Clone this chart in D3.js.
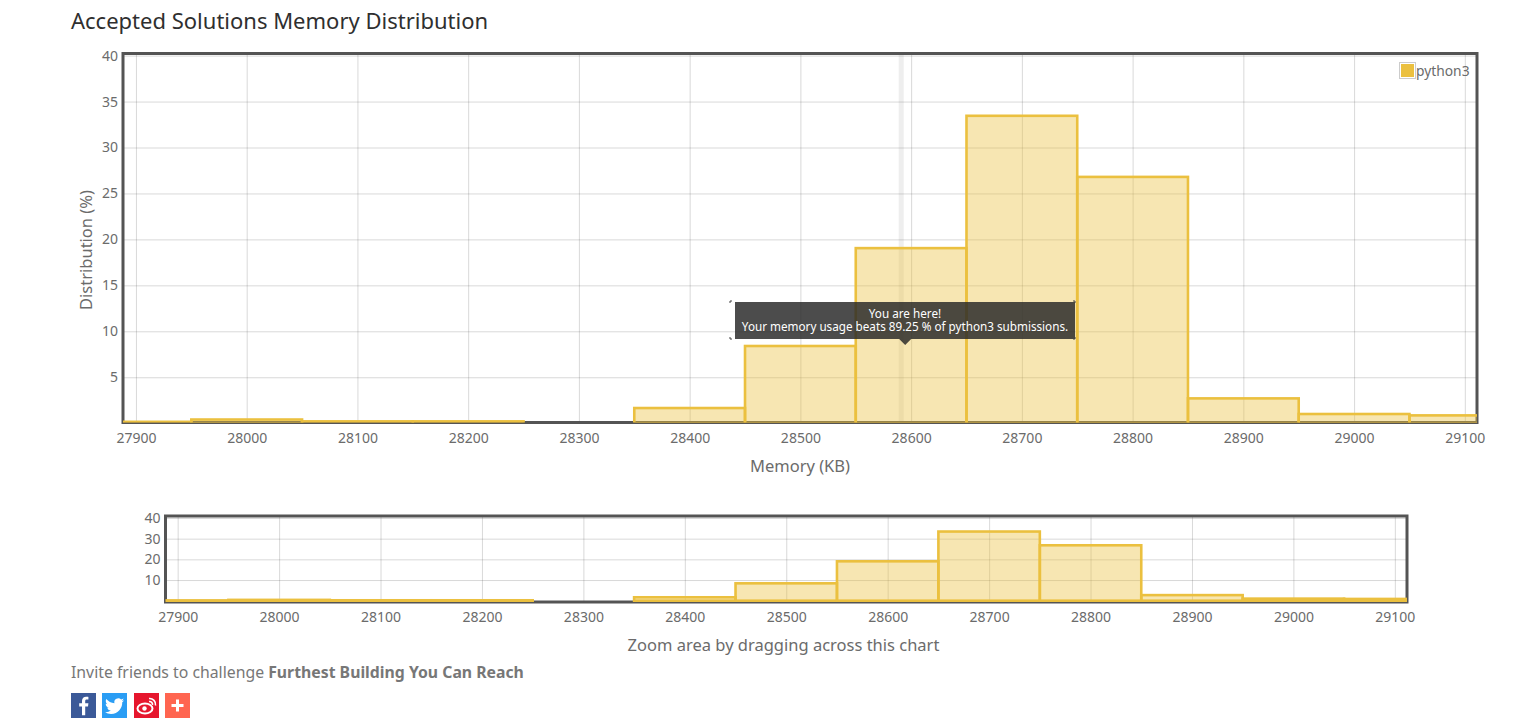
<!DOCTYPE html>
<html>
<head>
<meta charset="utf-8">
<title>Accepted Solutions Memory Distribution</title>
<script src="https://cdn.jsdelivr.net/npm/d3@7"></script>
<style>
  html, body { margin: 0; padding: 0; background: #fff; overflow: hidden; }
  svg { display: block; }
  text { font-family: "Noto Sans", sans-serif; }
</style>
</head>
<body>
<svg id="chart" width="1536" height="727"></svg>
<script>
let bin_start = [27850, 27950, 28050, 28150, 28250, 28350, 28450, 28550, 28650, 28750, 28850, 28950, 29050];
let bin_value = [0.15, 0.4, 0.2, 0.2, 0, 1.65, 8.4, 19.05, 33.45, 26.8, 2.7, 1.0, 0.85];
let bin_size = 100;

let x_ticks = [27900, 28000, 28100, 28200, 28300, 28400, 28500, 28600, 28700, 28800, 28900, 29000, 29100];
let y_ticks_main = [5, 10, 15, 20, 25, 30, 35, 40];
let y_ticks_over = [10, 20, 30, 40];

let series_name = 'python3';
let my_memory = 28591;

let bar_color = '#ebc03f';
let frame_color = '#545454';
let grid_color = 'rgba(84,84,84,0.22)';
let text_color = '#6b6b6b';

let svg = d3.select('#chart');

/*
 * One plot: grid, frame, bars and tick labels.
 * param.zero is where value 0 sits, a little off the frame line.
 */
function draw_plot(param) {
  let x = d3.scaleLinear().domain(param.x_domain).range([param.left, param.right]);
  let y = d3.scaleLinear().domain(param.y_domain).range([param.zero, param.y_top]);

  let clip_id = param.id + '_clip';
  svg.append('clipPath').attr('id', clip_id)
    .append('rect')
    .attr('x', param.left)
    .attr('y', param.top)
    .attr('width', param.right - param.left)
    .attr('height', param.bottom - param.top);

  let x_axis = svg.append('g')
    .attr('transform', `translate(0,${param.bottom})`)
    .call(d3.axisBottom(x).tickValues(x_ticks).tickFormat(d3.format('d'))
      .tickSize(-(param.bottom - param.top)).tickPadding(param.x_pad));

  let y_axis = svg.append('g')
    .attr('transform', `translate(${param.left},0)`)
    .call(d3.axisLeft(y).tickValues(param.y_ticks)
      .tickSize(-(param.right - param.left)).tickPadding(param.y_pad));

  [x_axis, y_axis].forEach(axis => {
    axis.select('.domain').remove();
    axis.selectAll('line').style('stroke', grid_color).style('stroke-width', 1);
    axis.selectAll('text')
      .style('font-size', param.font_size + 'px')
      .style('fill', text_color);
  });

  if (param.marker != null) {
    svg.append('rect')
      .attr('x', x(param.marker) - 2.5)
      .attr('y', param.top)
      .attr('width', 5)
      .attr('height', param.bottom - param.top)
      .style('fill', 'rgba(84,84,84,0.1)');
  }

  svg.append('rect')
    .attr('x', param.left)
    .attr('y', param.top)
    .attr('width', param.right - param.left)
    .attr('height', param.bottom - param.top)
    .style('fill', 'none')
    .style('stroke', frame_color)
    .style('stroke-width', 3);

  let bars = svg.append('g').attr('clip-path', `url(#${clip_id})`);
  bin_start.forEach((start, i) => {
    if (bin_value[i] == 0)
      return;

    bars.append('rect')
      .attr('x', x(start))
      .attr('y', y(bin_value[i]))
      .attr('width', x(start + bin_size) - x(start))
      .attr('height', y(0) - y(bin_value[i]))
      .style('fill', bar_color)
      .style('fill-opacity', 0.4)
      .style('stroke', bar_color)
      .style('stroke-width', 2.6);
  });

  return { x: x, y: y };
}

function draw_text(str, x, y, size, anchor, color) {
  return svg.append('text')
    .attr('x', x)
    .attr('y', y)
    .attr('text-anchor', anchor)
    .style('font-size', size + 'px')
    .style('fill', color)
    .text(str);
}

/*
 * Page title and the two plots.
 */
draw_text('Accepted Solutions Memory Distribution', 71, 29, 22, 'start', '#2f2f2f');

let main = draw_plot({
  id: 'main',
  left: 123, right: 1477, top: 53.5, bottom: 422.5, zero: 423.2, y_top: 55.6,
  x_domain: [27888.3, 29111],
  y_domain: [0, 40],
  y_ticks: y_ticks_main,
  x_pad: 11, y_pad: 5, font_size: 14,
  marker: my_memory,
});

draw_plot({
  id: 'over',
  left: 165.5, right: 1407, top: 516, bottom: 602, zero: 600.7, y_top: 518,
  x_domain: [27888, 29112],
  y_domain: [0, 40],
  y_ticks: y_ticks_over,
  x_pad: 10, y_pad: 5, font_size: 14,
});

draw_text('Distribution (%)', 0, 0, 16.5, 'middle', text_color)
  .attr('transform', 'translate(92,250) rotate(-90)');
draw_text('Memory (KB)', 800, 472, 16.5, 'middle', text_color);
draw_text('Zoom area by dragging across this chart', 783.5, 651, 16.5, 'middle', text_color);

/*
 * Legend.
 */
svg.append('rect')
  .attr('x', 1399.5).attr('y', 62.5)
  .attr('width', 16).attr('height', 16)
  .style('fill', '#fff')
  .style('stroke', '#ccc');
svg.append('rect')
  .attr('x', 1401).attr('y', 64)
  .attr('width', 13).attr('height', 13)
  .style('fill', bar_color);
draw_text(series_name, 1416, 75.5, 13.8, 'start', text_color);

/*
 * Tooltip pointing at the current submission.
 */
let tip_x = main.x(my_memory) + 4;
let tip = svg.append('g');
tip.append('path')
  .attr('d', `M735,302H1075V339H${tip_x + 6}L${tip_x},345L${tip_x - 6},339H735Z`)
  .style('fill', 'rgba(40,40,40,0.83)');
[[730, 301, 1, 1], [1075, 301, -1, 1], [730, 339, 1, -1], [1075, 339, -1, -1]].forEach(c => {
  tip.append('path')
    .attr('d', `M${c[0] + c[2] * 2},${c[1]}H${c[0]}V${c[1] + c[3] * 2}`)
    .style('fill', 'none')
    .style('stroke', '#444');
});
draw_text('You are here!', 905, 318, 11.7, 'middle', '#fff');
draw_text('Your memory usage beats 89.25 % of python3 submissions.', 905, 331, 11.7, 'middle', '#fff');

/*
 * Footer line and share buttons.
 */
let invite = draw_text('Invite friends to challenge ', 71, 678, 15.8, 'start', '#777');
invite.append('tspan')
  .style('font-weight', 700)
  .text('Furthest Building You Can Reach');

function draw_button(x, color) {
  let g = svg.append('g').attr('transform', `translate(${x},693)`);
  g.append('rect').attr('width', 25).attr('height', 25).style('fill', color);
  return g;
}

draw_button(71, '#3b5998').append('path')
  .attr('transform', 'translate(3,3) scale(0.8)')
  .attr('d', 'M14 24V13h3.5l.5-4h-4V6.5c0-1.2.4-2 2-2h2V1.1C17.6 1 16.5 1 15.2 1 12.2 1 10 2.9 10 6.2V9H6.5v4H10v11z')
  .style('fill', '#fff');

draw_button(102, '#2a9df4').append('path')
  .attr('transform', 'translate(3,3.5) scale(0.8)')
  .attr('d', 'M23.953 4.57a10 10 0 01-2.825.775 4.958 4.958 0 002.163-2.723c-.951.555-2.005.959-3.127 1.184a4.92 4.92 0 00-8.384 4.482C7.69 8.095 4.067 6.13 1.64 3.162a4.822 4.822 0 00-.666 2.475c0 1.71.87 3.213 2.188 4.096a4.904 4.904 0 01-2.228-.616v.06a4.923 4.923 0 003.946 4.827 4.996 4.996 0 01-2.212.085 4.936 4.936 0 004.604 3.417 9.867 9.867 0 01-6.102 2.105c-.39 0-.779-.023-1.17-.067a13.995 13.995 0 007.557 2.209c9.053 0 13.998-7.496 13.998-13.985 0-.21 0-.42-.015-.63A9.935 9.935 0 0024 4.59z')
  .style('fill', '#fff');

let weibo = draw_button(134, '#e6162d');
weibo.append('ellipse')
  .attr('cx', 11).attr('cy', 15.5).attr('rx', 7.5).attr('ry', 5)
  .style('fill', 'none').style('stroke', '#fff').style('stroke-width', 2);
weibo.append('circle')
  .attr('cx', 10.5).attr('cy', 15.5).attr('r', 2.2)
  .style('fill', '#fff');
weibo.append('path')
  .attr('d', 'M15,5.5A6,6 0 0 1 21.5,12.5M15,8.5A3,3 0 0 1 18.5,12')
  .style('fill', 'none').style('stroke', '#fff').style('stroke-width', 1.6);

let plus = draw_button(165, '#ff6550');
plus.append('path')
  .attr('d', 'M12.5,6.5V18.5M6.5,12.5H18.5')
  .style('stroke', '#fff').style('stroke-width', 3);
</script>
</body>
</html>
